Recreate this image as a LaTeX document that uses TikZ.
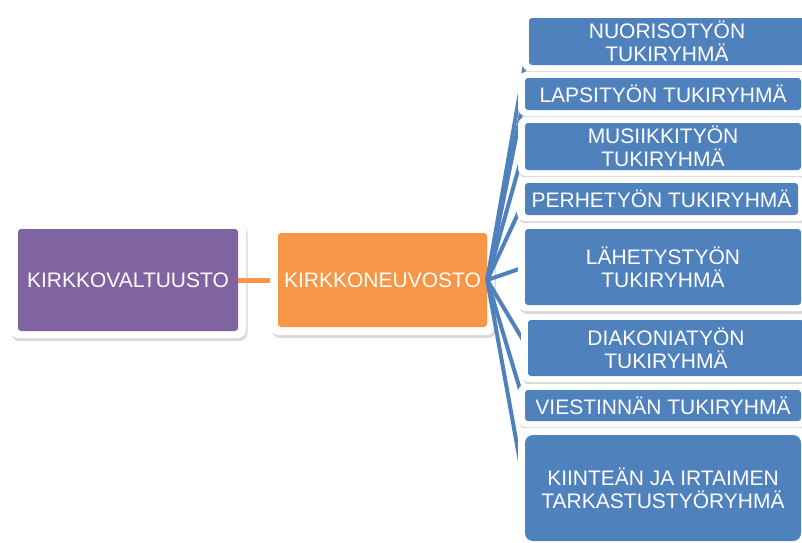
\documentclass[tikz,border=0pt]{standalone}
\usepackage{fontspec}
\setmainfont{Liberation Sans}
\usetikzlibrary{shadows}
\definecolor{cpurple}{HTML}{8064A2}
\definecolor{corange}{HTML}{F79646}
\definecolor{cblue}{HTML}{4F81BD}
\pgfdeclarelayer{low}
\pgfdeclarelayer{mid}
\pgfsetlayers{low,mid,main}
\begin{document}
\begin{tikzpicture}[x=1pt,y=-1pt,
  frame/.style={draw=none, fill=white, rounded corners=8pt, inner sep=0pt,
    drop shadow={shadow xshift=1.5pt, shadow yshift=-3pt, opacity=0.3}},
  box/.style={draw=none, rounded corners=3pt, inner sep=0pt, text=white,
    align=center, font=\fontsize{21}{23}\selectfont},
  bluebox/.style={box, fill=cblue, minimum width=276pt},
  link/.style={draw=cblue, line width=4pt},
  olink/.style={draw=corange, line width=5pt}]
\useasboundingbox (0,0) rectangle (802,542);
\clip (0,0) rectangle (802,542);
\begin{pgfonlayer}{low}
  \node[frame, minimum width=236pt, minimum height=116pt] (fv) at (128,280) {};
  \node[box, fill=cpurple, minimum width=220pt, minimum height=102pt] (kv) at (128,280) {KIRKKOVALTUUSTO};
  \node[frame, minimum width=224pt, minimum height=110pt] (fk) at (382.5,280) {};
\end{pgfonlayer}
\begin{pgfonlayer}{low}
  \draw[olink] (kv.east) -- (fk.west);
  \node[box, fill=corange, minimum width=209pt, minimum height=94pt] (ko) at (382.5,280) {KIRKKONEUVOSTO};
\end{pgfonlayer}
% blue frames and boxes
\node[frame, minimum width=290pt, minimum height=59pt] (f1) at (667,41.5) {};
\node[bluebox, minimum height=47pt] (b1) at (667,41.5) {NUORISOTYÖN\\TUKIRYHMÄ};
\node[frame, minimum width=290pt, minimum height=44pt] (f2) at (663,94) {};
\node[bluebox, minimum height=32pt] (b2) at (663,94) {LAPSITYÖN TUKIRYHMÄ};
\node[frame, minimum width=290pt, minimum height=59pt] (f3) at (663,146.5) {};
\node[bluebox, minimum height=47pt] (b3) at (663,146.5) {MUSIIKKITYÖN\\TUKIRYHMÄ};
\node[frame, minimum width=290pt, minimum height=44pt] (f4) at (662,199) {};
\node[bluebox, minimum width=273pt, minimum height=32pt] (b4) at (661.5,199) {PERHETYÖN TUKIRYHMÄ};
\node[frame, minimum width=290pt, minimum height=88pt] (f5) at (663,267) {};
\node[bluebox, minimum height=76pt] (b5) at (663,267) {LÄHETYSTYÖN\\TUKIRYHMÄ};
\node[frame, minimum width=290pt, minimum height=68pt] (f6) at (666,348) {};
\node[bluebox, minimum height=56pt] (b6) at (666,348) {DIAKONIATYÖN\\TUKIRYHMÄ};
\node[frame, minimum width=290pt, minimum height=43pt] (f7) at (663,405.5) {};
\node[bluebox, minimum height=31pt] (b7) at (663,405.5) {VIESTINNÄN TUKIRYHMÄ};
\node[frame, minimum width=290pt, minimum height=120pt] (f8) at (663,488) {};
\node[bluebox, minimum height=106pt, rounded corners=8pt] (b8) at (663,488) {KIINTEÄN JA IRTAIMEN\\TARKASTUSTYÖRYHMÄ};
\begin{pgfonlayer}{mid}
  \foreach \i in {1,...,8} {
    \draw[link] (ko.east) -- (b\i.west);
  }
\end{pgfonlayer}
\end{tikzpicture}
\end{document}
